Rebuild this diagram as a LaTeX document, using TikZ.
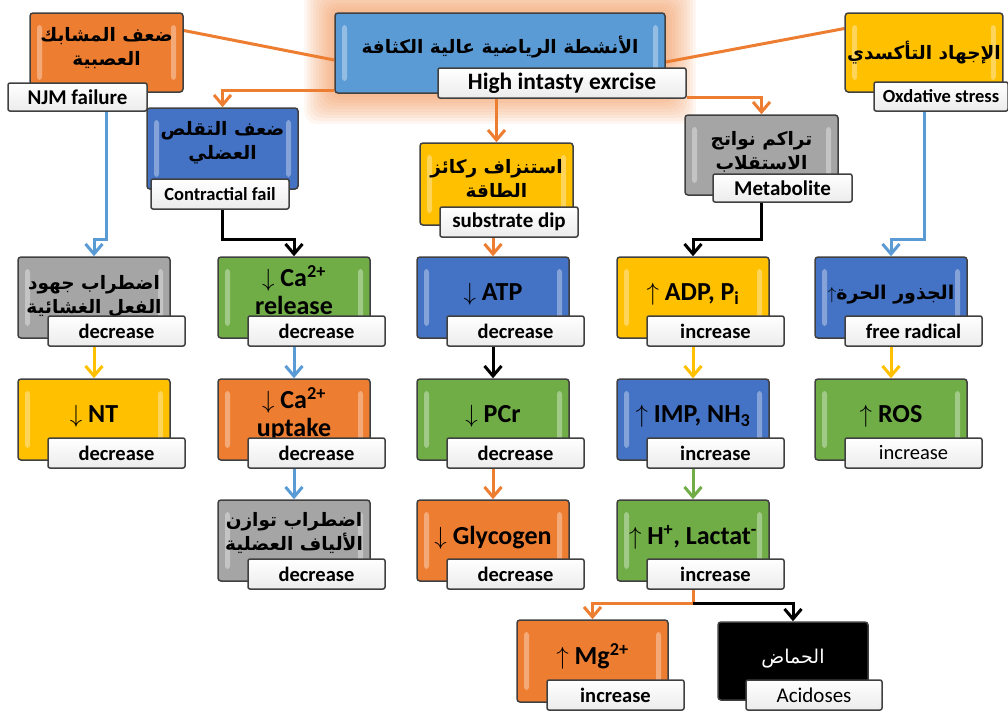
\documentclass[tikz,border=0pt]{standalone}
\usepackage{fontspec}
\setmainfont{Carlito}
\newfontfamily\arabicfont[Script=Arabic]{DejaVu Sans}
\TeXXeTstate=1
\usetikzlibrary{arrows.meta, positioning, calc, backgrounds}
\definecolor{boxblue}{RGB}{68,114,196}
\definecolor{topblue}{RGB}{91,155,213}
\definecolor{boxorange}{RGB}{237,125,49}
\definecolor{boxgold}{RGB}{255,192,0}
\definecolor{boxgray}{RGB}{165,165,165}
\definecolor{boxgreen}{RGB}{112,173,71}
\definecolor{edge}{RGB}{64,64,64}
\definecolor{lineblue}{RGB}{91,155,213}
\newcommand{\artext}[1]{\beginR #1\endR}

\begin{document}
\begin{tikzpicture}[x=1pt, y=-1pt,
    panel/.style={rectangle, draw=edge, line width=1.5pt, rounded corners=3pt, minimum width=152pt, minimum height=81pt, inner sep=2pt, align=center},
    box/.style={panel, path picture={
        \fill[white, opacity=0.35] ([shift={(7pt,-12pt)}]path picture bounding box.north west) rectangle ([shift={(12pt,12pt)}]path picture bounding box.south west);
        \fill[white, opacity=0.35] ([shift={(-12pt,-12pt)}]path picture bounding box.north east) rectangle ([shift={(-7pt,12pt)}]path picture bounding box.south east);}},
    tag/.style={rectangle, draw=edge, line width=1.5pt, rounded corners=2pt, top color=white, bottom color=gray!15, minimum width=137pt, minimum height=30pt, inner sep=0pt, font=\bfseries\fontsize{20.5}{22}\selectfont},
    arab/.style={font=\arabicfont\bfseries\fontsize{18.5}{24}\selectfont, text depth=16pt},
    latin/.style={font=\bfseries\fontsize{26}{28}\selectfont, text depth=11pt},
    link/.style={line width=3pt, -{Straight Barb[length=10pt,width=17pt]}},
    plain/.style={line width=3pt}]

    \useasboundingbox (0,0) rectangle (1008,713);

    % Top row
    \node[box, fill=topblue, minimum width=330pt, minimum height=80pt, arab, text depth=16pt] (main) at (500,53) {\artext{الأنشطة الرياضية عالية الكثافة}};
    \node[tag, minimum width=248pt, font=\bfseries\fontsize{23.5}{25}\selectfont] (hie) at (562,83) {High intasty exrcise};

    \node[box, fill=boxorange, minimum width=153pt, minimum height=79pt, arab, text depth=13pt] (tl) at (106.5,52.5) {\artext{ضعف المشابك}\\\artext{العصبية}};
    \node[tag, minimum width=139pt, minimum height=28pt, font=\bfseries\fontsize{21}{22}\selectfont] (njm) at (77.5,97) {NJM failure};

    \node[box, fill=boxgold, minimum height=79pt, arab, text depth=4pt] (tr) at (924,52.5) {\artext{الإجهاد التأكسدي}};
    \node[tag, minimum width=134pt, minimum height=29pt, font=\bfseries\fontsize{18.5}{20}\selectfont] (oxt) at (941,96.5) {Oxdative stress};

    % Second row
    \node[box, fill=boxblue, minimum width=151pt, arab] (contr) at (222.5,148.5) {\artext{ضعف التقلص}\\\artext{العضلي}};
    \node[tag, minimum width=138pt, font=\bfseries\fontsize{18.5}{20}\selectfont] (contrt) at (220,194) {Contractial fail};

    \node[box, fill=boxgold, minimum width=153pt, minimum height=82pt, arab, text depth=11pt] (subst) at (496.5,184) {\artext{استنزاف ركائز}\\\artext{الطاقة}};
    \node[tag, minimum width=138pt, font=\bfseries\fontsize{21}{22}\selectfont] (substt) at (509,222) {substrate dip};

    \node[box, fill=boxgray, minimum width=153pt, minimum height=80pt, arab, text depth=9pt] (metab) at (761.5,155) {\artext{تراكم نواتج}\\\artext{الاستقلاب}};
    \node[tag, minimum width=139pt, minimum height=28pt, font=\bfseries\fontsize{21}{22}\selectfont] (metabt) at (782.5,188) {Metabolite};

    % Column 1
    \node[box, fill=boxgray, arab, text depth=6pt] (r1c1) at (94,297.5) {\artext{اضطراب جهود}\\\artext{الفعل الغشائية}};
    \node[tag] (r1c1t) at (116.5,331) {decrease};
    \node[box, fill=boxgold, latin] (r2c1) at (94,419.5) {$\downarrow$ NT};
    \node[tag] (r2c1t) at (116.5,453) {decrease};

    % Column 2
    \node[box, fill=boxgreen, latin, text depth=15pt] (r1c2) at (294,297.5) {$\downarrow$ Ca\textsuperscript{2+}\\release};
    \node[tag] (r1c2t) at (316.5,331) {decrease};
    \node[box, fill=boxorange, latin, text depth=15pt] (r2c2) at (294,419.5) {$\downarrow$ Ca\textsuperscript{2+}\\uptake};
    \node[tag] (r2c2t) at (316.5,453) {decrease};
    \node[box, fill=boxgray, arab, text depth=18pt] (r3c2) at (294,540.5) {\artext{اضطراب توازن}\\\artext{الألياف العضلية}};
    \node[tag] (r3c2t) at (316.5,574) {decrease};

    % Column 3
    \node[box, fill=boxblue, latin] (r1c3) at (493,297.5) {$\downarrow$ ATP};
    \node[tag] (r1c3t) at (515.5,331) {decrease};
    \node[box, fill=boxgreen, latin] (r2c3) at (493,419.5) {$\downarrow$ PCr};
    \node[tag] (r2c3t) at (515.5,453) {decrease};
    \node[box, fill=boxorange, latin] (r3c3) at (493,540.5) {$\downarrow$ Glycogen};
    \node[tag] (r3c3t) at (515.5,574) {decrease};

    % Column 4
    \node[box, fill=boxgold, latin] (r1c4) at (693,297.5) {$\uparrow$ ADP, P\textsubscript{i}};
    \node[tag] (r1c4t) at (715.5,331) {increase};
    \node[box, fill=boxblue, latin] (r2c4) at (693,419.5) {$\uparrow$ IMP, NH\textsubscript{3}};
    \node[tag] (r2c4t) at (715.5,453) {increase};
    \node[box, fill=boxgreen, latin] (r3c4) at (693,540.5) {$\uparrow$ H\textsuperscript{+}, Lactat\textsuperscript{-}};
    \node[tag] (r3c4t) at (715.5,574) {increase};

    % Column 5
    \node[box, fill=boxblue, arab, font=\arabicfont\bfseries\fontsize{19}{25}\selectfont, text depth=10pt] (r1c5) at (891,297.5) {$\uparrow$\artext{الجذور الحرة}};
    \node[tag] (r1c5t) at (913.5,331) {free radical};
    \node[box, fill=boxgreen, latin] (r2c5) at (891,419.5) {$\uparrow$ ROS};
    \node[tag, font=\fontsize{20.5}{22}\selectfont] (r2c5t) at (913.5,453) {increase};

    % Bottom
    \node[box, fill=boxorange, minimum width=151pt, minimum height=82pt, latin, text depth=14pt] (mg) at (592.5,661) {$\uparrow$ Mg\textsuperscript{2+}};
    \node[tag] (mgt) at (615.5,695) {increase};
    \node[panel, fill=black, text=white, minimum width=150pt, minimum height=78pt, font=\arabicfont\fontsize{19}{26}\selectfont, text depth=9pt] (acid) at (793,661) {\artext{الحماض}};
    \node[tag, minimum width=136pt, font=\fontsize{21}{22}\selectfont] (acidt) at (814,695) {Acidoses};

    \begin{scope}[on background layer]
    % Glow
    \foreach \g in {1,...,10}
        \fill[boxorange, opacity=0.07, rounded corners=12pt] ([shift={(-\g*3pt,\g*3pt)}]main.north west) rectangle ([shift={(\g*3pt,-\g*3pt)}]main.south east);

    % From the main box
    \draw[plain, boxorange] ([yshift=-7pt]main.west) -- ([yshift=22pt]tl.east);
    \draw[plain, boxorange] ([yshift=-9pt]main.east) -- ([yshift=24pt]tr.west);
    \draw[link, boxorange] ([yshift=-37pt]main.west) -| (contr.north);
    \draw[link, boxorange] ([yshift=-14pt]hie.east) -| (metab.north);
    \draw[link, boxorange] (subst.north |- hie.south) -- (subst.north);

    % Into the columns
    \draw[link, lineblue] (tl.south |- njm.south) |- ($(r1c1.north)+(0,-17)$) -- (r1c1.north);
    \draw[link, black] (contr.south |- contrt.south) |- ($(r1c2.north)+(0,-17)$) -- (r1c2.north);
    \draw[link, boxorange] (r1c3.north |- substt.south) -- (r1c3.north);
    \draw[link, black] (metab.south |- metabt.south) |- ($(r1c4.north)+(0,-17)$) -- (r1c4.north);
    \draw[link, lineblue] (tr.south |- oxt.south) |- ($(r1c5.north)+(0,-17)$) -- (r1c5.north);

    % Down the columns
    \draw[link, boxgold] (r2c1.north |- r1c1t.south) -- (r2c1.north);
    \draw[link, lineblue] (r2c2.north |- r1c2t.south) -- (r2c2.north);
    \draw[link, lineblue] (r3c2.north |- r2c2t.south) -- (r3c2.north);
    \draw[link, black] (r2c3.north |- r1c3t.south) -- (r2c3.north);
    \draw[link, boxorange] (r3c3.north |- r2c3t.south) -- (r3c3.north);
    \draw[link, boxgold] (r2c4.north |- r1c4t.south) -- (r2c4.north);
    \draw[link, boxgreen] (r3c4.north |- r2c4t.south) -- (r3c4.north);
    \draw[link, boxgold] (r2c5.north |- r1c5t.south) -- (r2c5.north);

    % Split
    \draw[link, boxorange] (r3c4.south |- r3c4t.south) -- ++(0,14) -| (mg.north);
    \draw[link, black] ($(r3c4.south |- r3c4t.south)+(0,14)$) -| (acid.north);
    \end{scope}

\end{tikzpicture}
\end{document}
